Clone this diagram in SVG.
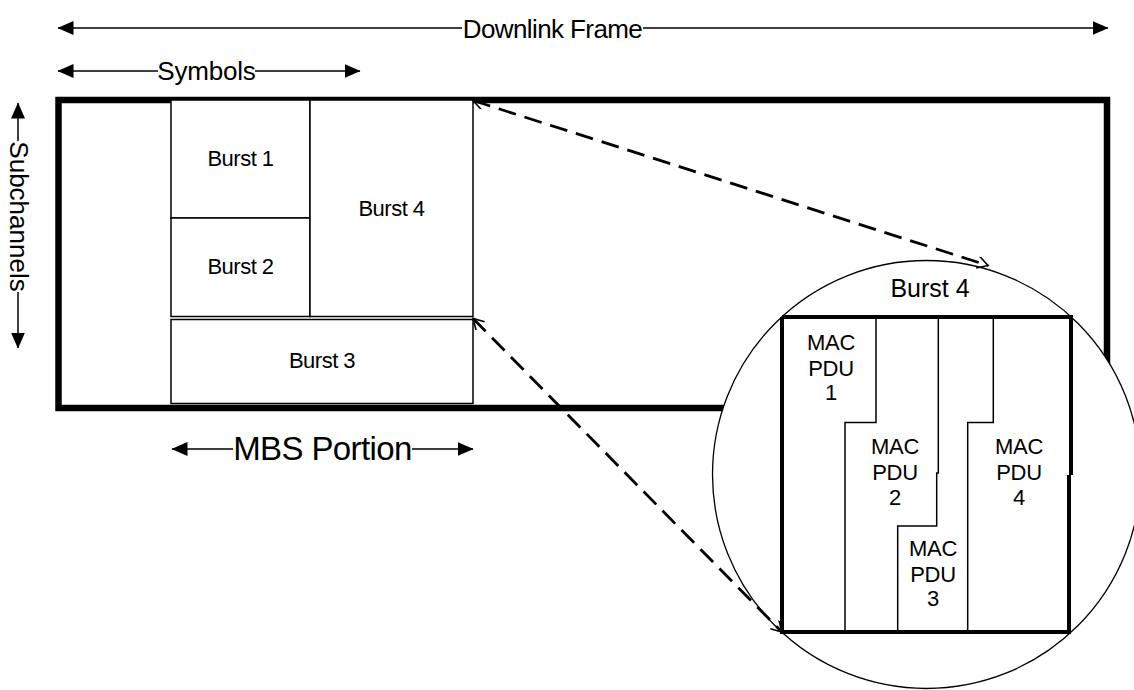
<svg xmlns="http://www.w3.org/2000/svg" width="1134" height="690" viewBox="0 0 1134 690">
<style>
  text { font-family: "Liberation Sans", Arial, sans-serif; fill: #000; }
  .thin { fill: none; stroke: #000; stroke-width: 1.5; }
  .box { fill: #fff; stroke: #000; stroke-width: 1.5; }
  .thick { fill: none; stroke: #000; stroke-width: 6.5; }
  .inner { fill: none; stroke: #000; stroke-width: 4; }
  .dim { stroke: #000; stroke-width: 1.5; fill: none; marker-end: url(#solid); }
  .dash { stroke: #000; stroke-width: 2.8; fill: none; stroke-dasharray: 18 9; }
  .lbl { font-size: 26px; }
  .burst { font-size: 22px; letter-spacing: -0.5px; text-anchor: middle; }
  .pdu { font-size: 22px; letter-spacing: -0.3px; text-anchor: middle; }
</style>
<defs>
  <marker id="solid" markerUnits="userSpaceOnUse" markerWidth="17" markerHeight="15" refX="15.5" refY="7" orient="auto">
    <path d="M0,0 L16,7 L0,14 z" fill="#000"/>
  </marker>
  <marker id="open" markerUnits="userSpaceOnUse" markerWidth="14" markerHeight="14" refX="11" refY="6" orient="auto-start-reverse">
    <path d="M0.5,0 L11,6 L0.5,12" fill="none" stroke="#000" stroke-width="1.6"/>
  </marker>
</defs>

<g id="dimension-labels">
  <g id="downlink-frame-dim">
    <line class="dim" x1="462" y1="28" x2="58" y2="28"/>
    <line class="dim" x1="643" y1="28" x2="1108" y2="28"/>
    <text class="lbl" x="552.5" y="37.5" text-anchor="middle" letter-spacing="-0.6">Downlink Frame</text>
  </g>
  <g id="symbols-dim">
    <line class="dim" x1="158" y1="71" x2="58" y2="71"/>
    <line class="dim" x1="255" y1="71" x2="360" y2="71"/>
    <text class="lbl" x="206.5" y="80" text-anchor="middle" letter-spacing="-0.2">Symbols</text>
  </g>
  <g id="subchannels-dim">
    <line class="dim" x1="18" y1="141" x2="18" y2="103"/>
    <line class="dim" x1="18" y1="292" x2="18" y2="348"/>
    <text class="lbl" transform="translate(9.5,216.5) rotate(90)" x="0" y="0" text-anchor="middle">Subchannels</text>
  </g>
  <g id="mbs-portion-dim">
    <line class="dim" x1="233" y1="449" x2="172" y2="449"/>
    <line class="dim" x1="412" y1="449" x2="473" y2="449"/>
    <text x="322.5" y="460" font-size="33" letter-spacing="-0.6" text-anchor="middle">MBS Portion</text>
  </g>
</g>

<g id="downlink-frame">
  <rect class="thick" x="58.5" y="100" width="1048.5" height="308"/>
</g>

<g id="burst1">
  <rect class="box" x="171" y="100" width="139" height="118"/>
  <text class="burst" x="240.5" y="166">Burst 1</text>
</g>
<g id="burst2">
  <rect class="box" x="171" y="218" width="139" height="98.5"/>
  <text class="burst" x="240.5" y="274">Burst 2</text>
</g>
<g id="burst4">
  <rect class="box" x="310" y="100" width="163" height="216.5"/>
  <text class="burst" x="391.5" y="215.5">Burst 4</text>
</g>
<g id="burst3">
  <rect class="box" x="171" y="319.5" width="302" height="84"/>
  <text class="burst" x="322" y="368">Burst 3</text>
</g>

<g id="burst4-detail">
  <circle cx="926.5" cy="474.5" r="214" fill="#fff" stroke="#000" stroke-width="1.3"/>
  <text x="930" y="297" font-size="25" text-anchor="middle">Burst 4</text>
  <path class="inner" d="M782,317 H1071 V475 M1069,475 V632 H782 V317"/>
  <g id="pdu-boundaries">
    <path class="thin" d="M876,317 V422.5 H845 V632"/>
    <path class="thin" d="M938.3,317 V473 H936.7 V526 H897.7 V632"/>
    <path class="thin" d="M993.3,317 V422.5 H967.7 V632"/>
  </g>
  <g id="pdu1">
    <text class="pdu" x="831" y="350">MAC</text>
    <text class="pdu" x="831" y="375.5">PDU</text>
    <text class="pdu" x="831" y="400">1</text>
  </g>
  <g id="pdu2">
    <text class="pdu" x="895" y="454">MAC</text>
    <text class="pdu" x="895" y="479.5">PDU</text>
    <text class="pdu" x="895" y="505">2</text>
  </g>
  <g id="pdu3">
    <text class="pdu" x="933" y="556">MAC</text>
    <text class="pdu" x="933" y="581.5">PDU</text>
    <text class="pdu" x="933" y="606">3</text>
  </g>
  <g id="pdu4">
    <text class="pdu" x="1019" y="454">MAC</text>
    <text class="pdu" x="1019" y="479.5">PDU</text>
    <text class="pdu" x="1019" y="505">4</text>
  </g>
</g>

<g id="connectors">
  <line class="dash" x1="473" y1="100.5" x2="988" y2="265.5" marker-start="url(#open)" marker-end="url(#open)"/>
  <line class="dash" x1="473" y1="318.5" x2="782" y2="632" marker-start="url(#open)" marker-end="url(#open)"/>
</g>
</svg>
